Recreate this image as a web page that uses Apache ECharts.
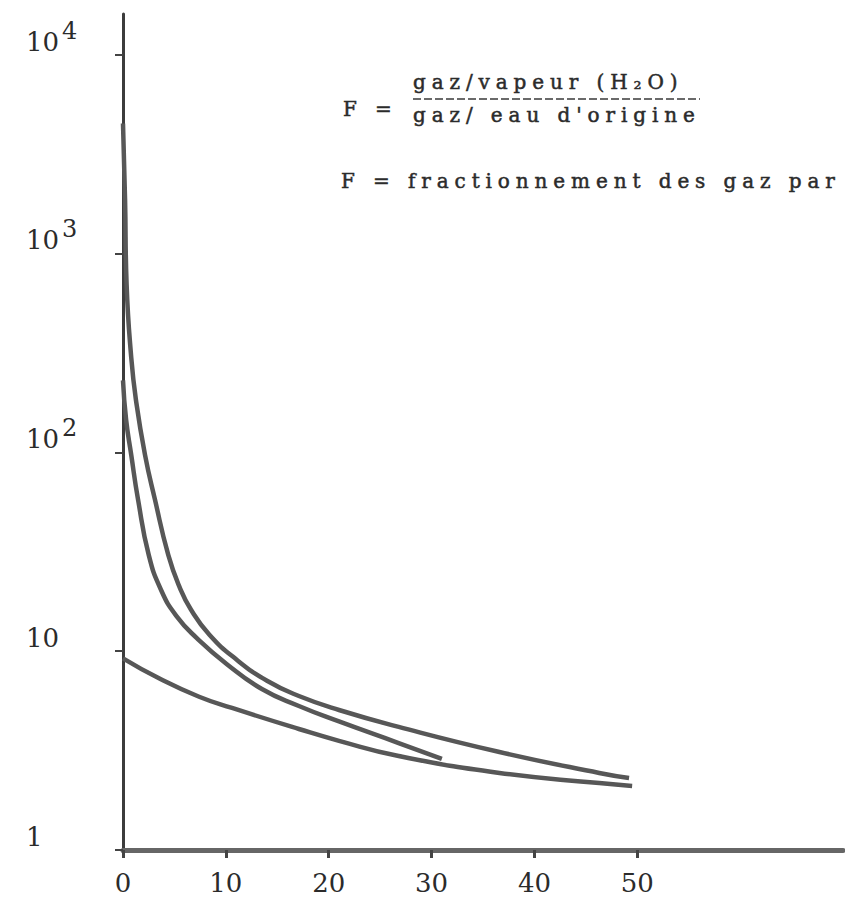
<!DOCTYPE html>
<html>
<head>
<meta charset="utf-8">
<script src="https://cdn.jsdelivr.net/npm/echarts@6/dist/echarts.min.js"></script>
<style>
  html, body { margin: 0; padding: 0; background: #ffffff; }
  #chart { width: 845px; height: 897px; }
  /* typewriter-style spacing for the formula annotations (20px text only) */
  #chart text[style*="20px"] { letter-spacing: 5.9px; }
</style>
</head>
<body>
<div id="chart"></div>
<script>
// Axis ticks
const xTickValues = [0, 10, 20, 30, 40, 50];
const yTickValues = [1, 10, 100, 1000, 10000];
const yTickBase = ['1', '10', '10', '10', '10'];
const yTickExp = ['', '', '2', '3', '4'];

// Fractionation factor F against x, three curves: [x, F]
const curveUpper = [
  [0, 4500], [0.2, 1870], [0.35, 700], [0.8, 300], [1.26, 183], [2.14, 97], [3.1, 58],
  [4.4, 30.5], [5.5, 21], [6.6, 16.2], [8.4, 12.1], [11, 9.1], [14, 7.1],
  [17.1, 5.95], [21, 5.06], [26.8, 4.16], [36.6, 3.11], [46.3, 2.44], [49.2, 2.3]
];
const curveMiddle = [
  [0, 230], [0.3, 146], [0.8, 97], [1.46, 58], [2.5, 30.5], [3.7, 20.3],
  [5.2, 15.0], [7.2, 11.6], [10.1, 8.6], [13.5, 6.45], [17.1, 5.3], [21, 4.43],
  [26.8, 3.45], [31, 2.87]
];
const curveLower = [
  [0, 9.2], [3.5, 7.3], [7.4, 5.9], [10.6, 5.18], [17.1, 4.06], [21, 3.54],
  [26.8, 2.97], [36.6, 2.44], [46.3, 2.17], [49.5, 2.1]
];

const serif = 'DejaVu Serif';
const ink = '#2b2b2b';
const curveColor = '#575757';

function curveSeries(data) {
  return {
    type: 'line',
    data: data,
    showSymbol: false,
    smooth: 0.5,
    clip: true,
    lineStyle: { color: curveColor, width: 4.5 },
    silent: true
  };
}

function note(text, x, y) {
  return {
    type: 'text', x: x, y: y,
    style: {
      text: text, fontSize: 20, fontFamily: serif, fill: ink,
      stroke: ink, lineWidth: 0.5, verticalAlign: 'middle'
    }
  };
}

const chart = echarts.init(document.getElementById('chart'), null, { renderer: 'svg' });

chart.setOption({
  animation: false,
  backgroundColor: '#ffffff',
  grid: { left: 123, right: 2, top: 14, bottom: 47, containLabel: false },
  xAxis: {
    type: 'value',
    min: 0,
    max: 70,
    axisLine: { show: true, lineStyle: { color: '#666666', width: 5 } },
    axisTick: {
      show: true,
      customValues: xTickValues,
      length: 8,
      lineStyle: { color: '#444444', width: 3 }
    },
    axisLabel: {
      customValues: xTickValues,
      margin: 20,
      fontSize: 26,
      fontFamily: serif,
      color: ink
    },
    splitLine: { show: false }
  },
  yAxis: {
    type: 'log',
    logBase: 10,
    min: 1,
    max: 16000,
    axisLine: { show: true, lineStyle: { color: '#3c3c3c', width: 3 } },
    axisTick: {
      show: true,
      customValues: yTickValues,
      length: 8,
      lineStyle: { color: '#444444', width: 2 }
    },
    axisLabel: {
      customValues: yTickValues,
      align: 'left',
      verticalAlign: 'bottom',
      margin: 97,
      formatter: function (v) {
        const i = Math.round(Math.log10(v));
        const exp = yTickExp[i];
        return '{b|' + yTickBase[i] + '}' + (exp ? '{s|' + exp + '}' : '');
      },
      rich: {
        b: { fontSize: 26, fontFamily: serif, color: ink, verticalAlign: 'bottom' },
        s: { fontSize: 24, fontFamily: serif, color: ink, verticalAlign: 'bottom', padding: [0, 0, 12, 3] }
      }
    },
    splitLine: { show: false }
  },
  series: [
    curveSeries(curveUpper),
    curveSeries(curveMiddle),
    curveSeries(curveLower)
  ],
  graphic: [
    note('F =', 343, 109),
    note('gaz/vapeur (H\u2082O)', 413, 82),
    {
      type: 'line',
      shape: { x1: 413, y1: 99, x2: 700, y2: 99 },
      style: { stroke: '#6a6a6a', lineWidth: 2, lineDash: [8, 3] }
    },
    note("gaz/ eau d'origine", 413, 115),
    note('F = fractionnement des gaz par', 341, 181)
  ]
});
</script>
</body>
</html>
